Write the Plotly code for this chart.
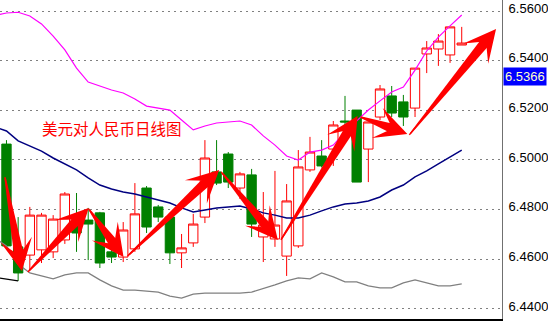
import math
import plotly.graph_objects as go

# ---- data (daily USD/CNY candles) ----
idx = list(range(1, 41))
opens = [6.5064, 6.4650, 6.4617, 6.4638, 6.4630, 6.4678, 6.4738, 6.4758, 6.4787, 6.4630,
         6.4609, 6.4642, 6.4887, 6.4811, 6.4770, 6.4626, 6.4666, 6.4770, 6.4952, 6.5024,
         6.4887, 6.4940, 6.4690, 6.4682, 6.4613, 6.4654, 6.4960, 6.5016, 6.5044, 6.5157,
         6.5201, 6.5044, 6.5173, 6.5258, 6.5234, 6.5209, 6.5427, 6.5447, 6.5423, 6.5463]
highs = [6.5080, 6.4770, 6.4811, 6.4787, 6.4778, 6.4871, 6.4867, 6.4807, 6.4791, 6.4638,
         6.4750, 6.4907, 6.4895, 6.4819, 6.4774, 6.4702, 6.4783, 6.5080, 6.5080, 6.5032,
         6.4952, 6.4964, 6.4871, 6.4956, 6.4903, 6.5040, 6.5093, 6.5080, 6.5157, 6.5258,
         6.5201, 6.5153, 6.5302, 6.5298, 6.5262, 6.5370, 6.5479, 6.5507, 6.5536, 6.5536]
lows = [6.4646, 6.4513, 6.4557, 6.4585, 6.4605, 6.4662, 6.4630, 6.4597, 6.4565, 6.4585,
        6.4589, 6.4630, 6.4706, 6.4750, 6.4581, 6.4565, 6.4650, 6.4746, 6.4899, 6.4887,
        6.4843, 6.4690, 6.4589, 6.4650, 6.4533, 6.4646, 6.4952, 6.4970, 6.4976, 6.5121,
        6.4911, 6.4911, 6.5161, 6.5173, 6.5137, 6.5173, 6.5350, 6.5379, 6.5391, 6.5463]
closes = [6.4654, 6.4545, 6.4778, 6.4778, 6.4762, 6.4863, 6.4706, 6.4742, 6.4585, 6.4609,
          6.4718, 6.4783, 6.4730, 6.4770, 6.4626, 6.4646, 6.4742, 6.5008, 6.4907, 6.4911,
          6.4944, 6.4742, 6.4738, 6.4738, 6.4835, 6.4972, 6.5032, 6.4976, 6.5141, 6.5153,
          6.4911, 6.5153, 6.5286, 6.5189, 6.5173, 6.5370, 6.5451, 6.5479, 6.5536, 6.5471]

# indicator lines (index 0 is the bar before the first visible candle)
line_idx = list(range(0, 41))
upper_band = [6.5582, 6.5592, 6.5595, 6.5580, 6.5548, 6.5499, 6.5443, 6.5370, 6.5314, 6.5298,
              6.5282, 6.5270, 6.5246, 6.5217, 6.5209, 6.5201, 6.5161, 6.5121, 6.5137, 6.5149,
              6.5153, 6.5157, 6.5141, 6.5097, 6.5060, 6.5016, 6.5000, 6.5032, 6.5040, 6.5060,
              6.5113, 6.5157, 6.5201, 6.5238, 6.5274, 6.5294, 6.5362, 6.5439, 6.5495, 6.5540, 6.5584]
mid_band = [6.5133, 6.5117, 6.5077, 6.5056, 6.5036, 6.5008, 6.4984, 6.4960, 6.4928, 6.4899,
            6.4883, 6.4871, 6.4863, 6.4851, 6.4839, 6.4827, 6.4807, 6.4791, 6.4799, 6.4807,
            6.4811, 6.4815, 6.4803, 6.4787, 6.4778, 6.4766, 6.4766, 6.4778, 6.4795, 6.4811,
            6.4823, 6.4827, 6.4835, 6.4851, 6.4879, 6.4899, 6.4932, 6.4956, 6.4984, 6.5012, 6.5040]
lower_band = [6.4686, 6.4654, 6.4581, 6.4545, 6.4533, 6.4521, 6.4537, 6.4545, 6.4545, 6.4517,
              6.4493, 6.4476, 6.4476, 6.4472, 6.4468, 6.4452, 6.4444, 6.4460, 6.4464, 6.4464,
              6.4464, 6.4464, 6.4468, 6.4481, 6.4497, 6.4513, 6.4525, 6.4521, 6.4545, 6.4529,
              6.4509, 6.4509, 6.4493, 6.4485, 6.4485, 6.4505, 6.4517, 6.4505, 6.4493, 6.4493, 6.4501]
stub_idx = [0, 1, 2]
stub_vals = [6.4527, 6.4519, 6.4513]

# hand-drawn trend arrows: (tail index, tail price, head index, head price)
arrows = [(0.87, 6.4931, 2.32, 6.4553),
          (2.83, 6.4549, 8.04, 6.4807),
          (8.04, 6.4803, 11.03, 6.4609),
          (11.37, 6.4613, 19.22, 6.4960),
          (19.39, 6.4952, 24.25, 6.4678),
          (24.51, 6.4678, 31.08, 6.5177),
          (31.33, 6.5173, 35.34, 6.5105),
          (35.51, 6.5101, 42.94, 6.5528)]

title_text = "美元对人民币日线图"
last_price = 6.5366
y_ticks = [6.44, 6.46, 6.48, 6.50, 6.52, 6.54, 6.56]

# layout geometry
W, H = 548, 321
M = dict(l=0, r=44, t=0, b=2)
x_range = [0.445, 43.45]
y_range = [6.43596, 6.56443]
px_x = (W - M["l"] - M["r"]) / (x_range[1] - x_range[0])
px_y = (H - M["t"] - M["b"]) / (y_range[1] - y_range[0])

fig = go.Figure()
fig.add_trace(go.Scatter(x=line_idx, y=lower_band, mode="lines",
                         line=dict(color="#808080", width=1.3), hoverinfo="skip"))
fig.add_trace(go.Scatter(x=stub_idx, y=stub_vals, mode="lines",
                         line=dict(color="#000000", width=1.3), hoverinfo="skip"))
fig.add_trace(go.Scatter(x=line_idx, y=mid_band, mode="lines",
                         line=dict(color="#000080", width=1.5), hoverinfo="skip"))
fig.add_trace(go.Scatter(x=line_idx, y=upper_band, mode="lines",
                         line=dict(color="#FF00FF", width=1.2), hoverinfo="skip"))
fig.add_trace(go.Candlestick(
    x=idx, open=opens, high=highs, low=lows, close=closes,
    increasing=dict(line=dict(color="#FF0000", width=1), fillcolor="#FFFFFF"),
    decreasing=dict(line=dict(color="#008000", width=1), fillcolor="#008000"),
    whiskerwidth=0, hoverinfo="skip"))

# tapered arrow shafts (wedge from tail to the base of the head)
shapes = []
for (tx, ty, hx, hy) in arrows:
    dx = (hx - tx) * px_x
    dy = (hy - ty) * px_y
    L = math.hypot(dx, dy)
    ux, uy = dx / L, dy / L
    back = 15.0
    half_w = 5.0
    bx, by = dx - ux * back, dy - uy * back
    p1 = (bx - uy * half_w, by + ux * half_w)
    p2 = (bx + uy * half_w, by - ux * half_w)
    t0 = (-uy * 0.7, ux * 0.7)
    t1 = (uy * 0.7, -ux * 0.7)
    pts = [t0, p1, p2, t1]
    path = "M " + " L ".join(f"{tx + px_ / px_x:.5f},{ty + py_ / px_y:.6f}" for px_, py_ in pts) + " Z"
    shapes.append(dict(type="path", path=path, xref="x", yref="y",
                       fillcolor="#FF0000", line=dict(width=0), layer="above"))

annotations = []
for (tx, ty, hx, hy) in arrows:
    annotations.append(dict(x=hx, y=hy, ax=tx, ay=ty, xref="x", yref="y",
                            axref="x", ayref="y", text="", showarrow=True,
                            arrowhead=3, arrowsize=3.8, arrowwidth=1.4,
                            arrowcolor="#FF0000"))
annotations.append(dict(x=0.079, y=0.6, xref="paper", yref="paper", text=title_text,
                        showarrow=False, xanchor="left", yanchor="middle",
                        font=dict(family="Noto Sans CJK SC", size=15.5, color="#FF0000")))
annotations.append(dict(x=1, y=last_price, xref="paper", yref="y", text="6.5366",
                        showarrow=False, xanchor="left", yanchor="middle",
                        xshift=1, yshift=-7, bgcolor="#0000FF", borderpad=1,
                        font=dict(family="Liberation Sans", size=13, color="#FFFFC8")))

fig.update_layout(
    width=W, height=H,
    margin=M,
    paper_bgcolor="#FFFFFF", plot_bgcolor="#FFFFFF",
    showlegend=False,
    boxgap=0.2, boxgroupgap=0.0,
    annotations=annotations,
    shapes=shapes,
    xaxis=dict(range=x_range, showgrid=False, zeroline=False,
               showticklabels=False, ticks="", rangeslider=dict(visible=False),
               showline=True, linecolor="#000000", linewidth=1.5, fixedrange=True),
    yaxis=dict(side="right", range=y_range, tickvals=y_ticks,
               tickformat=".4f", showgrid=True, gridcolor="#808080", gridwidth=1,
               griddash="2px,4px", zeroline=False, showline=True,
               linecolor="#707070", linewidth=1, ticks="",
               ticklabelstandoff=3, ticklabelshift=-3,
               tickfont=dict(family="Liberation Sans", size=13, color="#000000")),
)
fig.write_html("out.html")
